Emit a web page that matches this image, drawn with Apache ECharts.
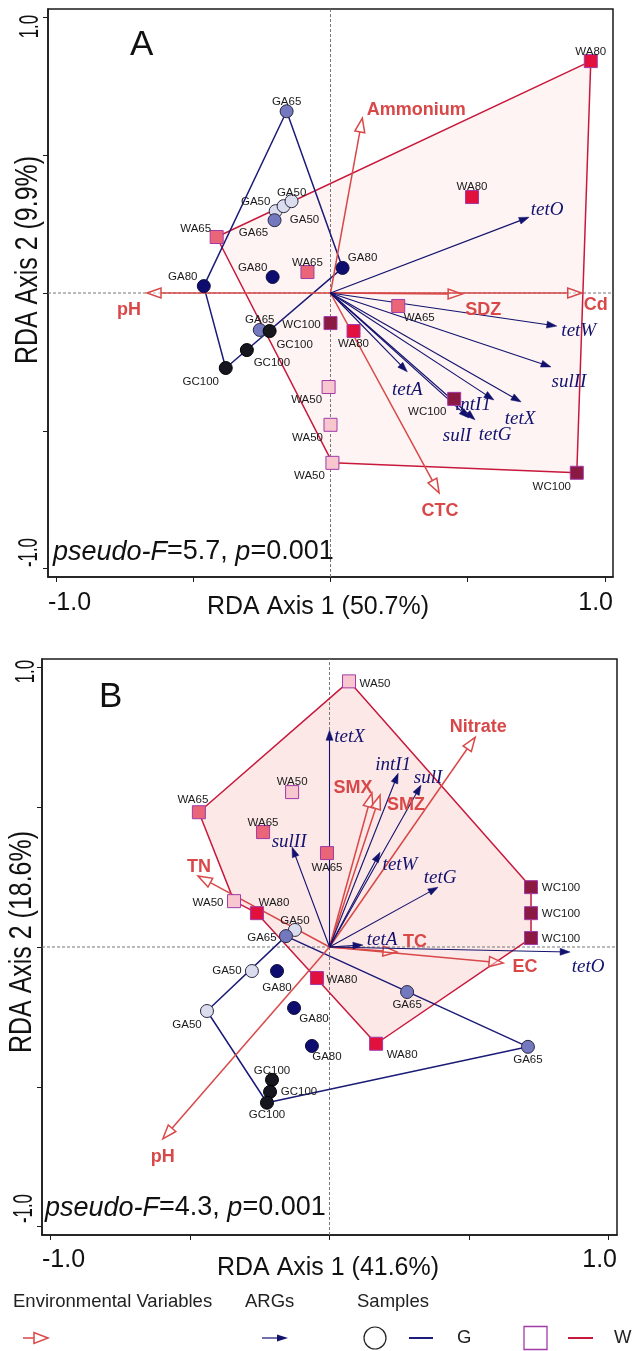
<!DOCTYPE html>
<html><head><meta charset="utf-8">
<script src="https://cdn.jsdelivr.net/npm/echarts@6/dist/echarts.min.js"></script>
<style>html,body{margin:0;padding:0;background:#fff}#c{width:635px;height:1351px}</style>
</head><body><div id="c"></div>
<script>
// ================= DATA =================
// ---- Panel A ----
const aSampleNames = ['GA50','GA50','GA50','GA65','GA65','GA65','GA80','GA80','GA80','GC100','GC100','GC100',
  'WA50','WA50','WA50','WA65','WA65','WA65','WA80','WA80','WA80','WC100','WC100','WC100'];
const aSampleX = [-0.200,-0.171,-0.142,-0.204,-0.160,-0.258,-0.462,-0.211,0.044,-0.222,-0.305,-0.382,
  -0.007,0.000,0.007,-0.415,-0.084,0.247,0.949,0.516,0.084,0.000,0.451,0.898];
const aSampleY = [0.297,0.315,0.333,0.264,0.659,-0.134,0.025,0.058,0.091,-0.138,-0.207,-0.272,
  -0.341,-0.478,-0.616,0.203,0.076,-0.047,0.841,0.348,-0.138,-0.109,-0.384,-0.652];
const aHullG = [4,8,11,6];
const aHullW = [15,18,23,14];
const aEnvNames = ['Ammonium','pH','SDZ','Cd','CTC'];
const aEnvX = [0.116,-0.669,0.480,0.916,0.396];
const aEnvY = [0.634,0.000,-0.004,0.000,-0.725];
const aArgNames = ['tetO','tetW','sulII','tetA','intI1','tetX','sulI','tetG'];
const aArgX = [0.724,0.825,0.804,0.280,0.596,0.695,0.505,0.527];
const aArgY = [0.275,-0.120,-0.268,-0.286,-0.388,-0.395,-0.453,-0.460];

// ---- Panel B ----
const bSampleNames = ['GA50','GA50','GA50','GA65','GA65','GA65','GA80','GA80','GA80','GC100','GC100','GC100',
  'WA50','WA50','WA50','WA65','WA65','WA65','WA80','WA80','WA80','WC100','WC100','WC100'];
const bSampleX = [-0.124,-0.278,-0.439,-0.156,0.278,0.711,-0.188,-0.127,-0.063,-0.206,-0.213,-0.224,
  0.070,-0.134,-0.342,-0.468,-0.238,-0.009,-0.260,-0.045,0.167,0.722,0.722,0.722];
const bSampleY = [0.061,-0.086,-0.229,0.039,-0.161,-0.357,-0.086,-0.218,-0.354,-0.475,-0.518,-0.557,
  0.950,0.554,0.164,0.482,0.411,0.336,0.121,-0.111,-0.346,0.214,0.121,0.032];
const bHullG = [3,5,11,2];
const bHullW = [12,21,23,20,18,14,15];
const bEnvNames = ['Nitrate','SMX','SMZ','TN','TC','EC','pH'];
const bEnvX = [0.522,0.152,0.181,-0.471,0.242,0.622,-0.597];
const bEnvY = [0.750,0.550,0.543,0.254,-0.018,-0.057,-0.686];
const bArgNames = ['tetX','intI1','sulI','sulII','tetW','tetG','tetA','tetO'];
const bArgX = [0.000,0.246,0.328,-0.134,0.181,0.389,0.120,0.862];
const bArgY = [0.775,0.621,0.579,0.357,0.339,0.214,0.007,-0.018];

// ---- texts / ticks ----
const panelLetters = ['A','B'];
const xTitles = ['RDA Axis 1 (50.7%)','RDA Axis 1 (41.6%)'];
const yTitles = ['RDA Axis 2 (9.9%)','RDA Axis 2 (18.6%)'];
const statF = ['5.7','4.3'];
const statP = ['0.001','0.001'];
const tickValues = [-1,-0.5,0,0.5,1];
const tickLabels = ['-1.0','1.0'];
const legendTitles = ['Environmental Variables','ARGs','Samples'];
const legendGroups = ['G','W'];

// ================= STYLE =================
const AX_MIN = -1.03, AX_MAX = 1.03;
const grids = [
  {left:48, top:9, width:565, height:568},
  {left:42, top:659, width:575, height:576}
];
const ENV_C = '#d94848', ARG_C = '#12126e', GHULL_C = '#1b1b78', WHULL_C = '#c8193c';
const W_FILL = ['#fdf4f3','#fde8e8'];
const SANS = '"Liberation Sans", Arial, sans-serif';
const SERIF = '"Liberation Serif", "Times New Roman", serif';
const typeStyle = {
  GA50:{symbol:'circle', color:'#dcdcef', border:'#2b2b40'},
  GA65:{symbol:'circle', color:'#7479bf', border:'#2b2b40'},
  GA80:{symbol:'circle', color:'#0d0d70', border:'#0d0d40'},
  GC100:{symbol:'circle', color:'#16161f', border:'#000000'},
  WA50:{symbol:'rect', color:'#f7c6cf', border:'#a23aa8'},
  WA65:{symbol:'rect', color:'#eb6579', border:'#a23aa8'},
  WA80:{symbol:'rect', color:'#e2103c', border:'#a23aa8'},
  WC100:{symbol:'rect', color:'#8a1a42', border:'#a23aa8'}
};
const aSampleLabelOff = [[-20,-9],[8,-13],[13,19],[-21,13],[0,-9],[0,-10],[-21,-9],[-20,-9],[20,-10],[25,14],[25,13],[-25,14],
  [-22,13],[-23,13],[-23,13],[-21,-8],[0,-9],[21,12],[0,-9],[0,-10],[0,13],[-29,2],[-27,13],[-25,14]];
const bSampleLabelOff = [[0,-9],[-25,0],[-20,14],[-24,2],[0,13],[0,13],[0,17],[20,11],[15,11],[0,-9],[29,0],[0,12],
  [26,2],[0,-10],[-26,2],[-6,-12],[0,-9],[0,15],[17,-10],[25,2],[26,11],[30,1],[30,1],[30,1]];
const aEnvLabelOff = [[54,-8],[-18,17],[21,16],[14,12],[1,18]];
const aArgLabelOff = [[18,-7],[22,5],[18,15],[0,18],[-21,5],[-1,17],[-12,18],[20,15]];
const bEnvLabelOff = [[3,-10],[-19,-5],[26,10],[1,-9],[18,-10],[22,4],[0,18]];
const bArgLabelOff = [[20,7],[-5,-8],[7,-7],[-3,-5],[20,13],[2,-9],[19,-5],[18,15]];

const panels = [
  {names:aSampleNames, sx:aSampleX, sy:aSampleY, hullG:aHullG, hullW:aHullW, envN:aEnvNames, envX:aEnvX, envY:aEnvY,
   argN:aArgNames, argX:aArgX, argY:aArgY, sOff:aSampleLabelOff, eOff:aEnvLabelOff, gOff:aArgLabelOff},
  {names:bSampleNames, sx:bSampleX, sy:bSampleY, hullG:bHullG, hullW:bHullW, envN:bEnvNames, envX:bEnvX, envY:bEnvY,
   argN:bArgNames, argX:bArgX, argY:bArgY, sOff:bSampleLabelOff, eOff:bEnvLabelOff, gOff:bArgLabelOff}
];

function arrowItem(api, x, y, color, hl, hw, hollow, lw, text, off, font) {
  const p0 = api.coord([0,0]), p1 = api.coord([x,y]);
  const dx = p1[0]-p0[0], dy = p1[1]-p0[1], L = Math.hypot(dx,dy) || 1;
  const ux = dx/L, uy = dy/L;
  const b = [p1[0]-ux*hl, p1[1]-uy*hl];
  const l = [b[0]-uy*hw, b[1]+ux*hw], r = [b[0]+uy*hw, b[1]-ux*hw];
  return {type:'group', children:[
    {type:'line', shape:{x1:p0[0], y1:p0[1], x2:hollow?b[0]:p1[0]-ux*2, y2:hollow?b[1]:p1[1]-uy*2}, style:{stroke:color, lineWidth:lw}},
    {type:'polygon', shape:{points:[p1,l,r]}, style:hollow?{stroke:color, fill:'rgba(255,255,255,0.5)', lineWidth:1.5}:{fill:color, stroke:color, lineWidth:0.5}},
    {type:'text', x:p1[0]+off[0], y:p1[1]+off[1], z2:20, style:{text:text, fill:color, font:font, align:'center', verticalAlign:'middle'}}
  ]};
}

const series = [];
panels.forEach((P, i) => {
  // W hull fill
  series.push({type:'custom', xAxisIndex:i, yAxisIndex:i, z:1, silent:true,
    data: P.hullW.map(k => [P.sx[k], P.sy[k]]),
    renderItem:(params, api) => {
      if (params.dataIndex !== 0) return null;
      return {type:'polygon', shape:{points:P.hullW.map(k => api.coord([P.sx[k], P.sy[k]]))}, style:{fill:W_FILL[i], stroke:'none'}};
    }});
  // zero lines
  series.push({type:'custom', xAxisIndex:i, yAxisIndex:i, z:2, silent:true, data:[[0,0]],
    renderItem:(params, api) => {
      const h0 = api.coord([AX_MIN,0]), h1 = api.coord([AX_MAX,0]);
      const v0 = api.coord([0,AX_MIN]), v1 = api.coord([0,AX_MAX]);
      const st = {stroke:'#777', lineWidth:1, lineDash:[3,2]};
      return {type:'group', children:[
        {type:'line', shape:{x1:h0[0], y1:h0[1], x2:h1[0], y2:h1[1]}, style:st},
        {type:'line', shape:{x1:v0[0], y1:v0[1], x2:v1[0], y2:v1[1]}, style:st}
      ]};
    }});
  // hull outlines
  series.push({type:'line', xAxisIndex:i, yAxisIndex:i, z:3, silent:true, symbol:'none',
    data:[...P.hullW, P.hullW[0]].map(k => [P.sx[k], P.sy[k]]), lineStyle:{color:WHULL_C, width:1.5}});
  series.push({type:'line', xAxisIndex:i, yAxisIndex:i, z:3, silent:true, symbol:'none',
    data:[...P.hullG, P.hullG[0]].map(k => [P.sx[k], P.sy[k]]), lineStyle:{color:GHULL_C, width:1.5}});
  // environmental arrows
  series.push({type:'custom', xAxisIndex:i, yAxisIndex:i, z:4, silent:true,
    data:P.envX.map((x,k) => [x, P.envY[k], k]),
    renderItem:(params, api) => {
      const k = api.value(2);
      return arrowItem(api, api.value(0), api.value(1), ENV_C, 14, 5, true, 1.5, P.envN[k], P.eOff[k], 'bold 18px ' + SANS);
    }});
  // ARG arrows
  series.push({type:'custom', xAxisIndex:i, yAxisIndex:i, z:4, silent:true,
    data:P.argX.map((x,k) => [x, P.argY[k], k]),
    renderItem:(params, api) => {
      const k = api.value(2);
      return arrowItem(api, api.value(0), api.value(1), ARG_C, 10, 3.5, false, 1.1, P.argN[k], P.gOff[k], 'italic 19px ' + SERIF);
    }});
  // samples
  series.push({type:'scatter', xAxisIndex:i, yAxisIndex:i, z:5, silent:true,
    data:P.names.map((n,k) => {
      const s = typeStyle[n];
      return {name:n, value:[P.sx[k], P.sy[k]], symbol:s.symbol, symbolSize:13,
        itemStyle:{color:s.color, borderColor:s.border, borderWidth:1, opacity:1}};
    })});
  // sample labels
  series.push({type:'custom', xAxisIndex:i, yAxisIndex:i, z:6, silent:true,
    data:P.sx.map((x,k) => [x, P.sy[k], k]),
    renderItem:(params, api) => {
      const k = api.value(2), p = api.coord([api.value(0), api.value(1)]);
      return {type:'text', x:p[0]+P.sOff[k][0], y:p[1]+P.sOff[k][1],
        style:{text:P.names[k], fill:'#1a1a1a', font:'11.5px ' + SANS, align:'center', verticalAlign:'middle'}};
    }});
});

// ---- graphic texts ----
const graphic = [];
grids.forEach((g, i) => {
  const L = g.left, R = g.left + g.width, T = g.top, B = g.top + g.height;
  graphic.push({type:'text', x:(i?99:130), y:(i?697:45), style:{text:panelLetters[i], font:'35px ' + SANS, fill:'#111', verticalAlign:'middle'}});
  graphic.push({type:'text', x:L, y:B+(i?25:26), style:{text:tickLabels[0], font:'25px ' + SANS, fill:'#111', align:'left', verticalAlign:'middle'}});
  graphic.push({type:'text', x:R, y:B+(i?25:26), style:{text:tickLabels[1], font:'25px ' + SANS, fill:'#111', align:'right', verticalAlign:'middle'}});
  graphic.push({type:'text', x:(i?26:30), y:T+(i?1:6), rotation:Math.PI/2, scaleX:0.6,
    style:{text:tickLabels[1], font:'28px ' + SANS, fill:'#111', align:'right', verticalAlign:'middle'}});
  graphic.push({type:'text', x:(i?24:29), y:B-(i?12:10), rotation:Math.PI/2, scaleX:0.6,
    style:{text:tickLabels[0], font:'28px ' + SANS, fill:'#111', align:'left', verticalAlign:'middle'}});
  graphic.push({type:'text', x:(i?328:318), y:B+(i?33:30), scaleX:0.96,
    style:{text:xTitles[i], font:'26px ' + SANS, fill:'#111', align:'center', verticalAlign:'middle'}});
  graphic.push({type:'text', x:(i?22:28), y:(i?942:260), rotation:Math.PI/2, scaleX:0.78,
    style:{text:yTitles[i], font:'32px ' + SANS, fill:'#111', align:'center', verticalAlign:'middle'}});
  graphic.push({type:'text', x:(i?45:53), y:(i?1208:552),
    style:{text:'{i|pseudo-F}{n|=' + statF[i] + ', }{i|p}{n|=' + statP[i] + '}', verticalAlign:'middle',
      rich:{i:{font:'italic 27px ' + SANS, fill:'#111'}, n:{font:'27px ' + SANS, fill:'#111'}}}});
});
// legend
const LY = 1338, LT = 1302;
graphic.push({type:'text', x:13, y:LT, style:{text:legendTitles[0], font:'18.5px ' + SANS, fill:'#222', verticalAlign:'middle'}});
graphic.push({type:'text', x:245, y:LT, style:{text:legendTitles[1], font:'18.5px ' + SANS, fill:'#222', verticalAlign:'middle'}});
graphic.push({type:'text', x:357, y:LT, style:{text:legendTitles[2], font:'18.5px ' + SANS, fill:'#222', verticalAlign:'middle'}});
graphic.push({type:'line', shape:{x1:23, y1:LY, x2:34, y2:LY}, style:{stroke:ENV_C, lineWidth:1.5}});
graphic.push({type:'polygon', shape:{points:[[48,LY],[34,LY-5.5],[34,LY+5.5]]}, style:{stroke:ENV_C, fill:'#fff', lineWidth:1.5}});
graphic.push({type:'line', shape:{x1:262, y1:LY, x2:278, y2:LY}, style:{stroke:ARG_C, lineWidth:1.2}});
graphic.push({type:'polygon', shape:{points:[[288,LY],[277,LY-3.5],[277,LY+3.5]]}, style:{fill:ARG_C}});
graphic.push({type:'circle', shape:{cx:375, cy:LY, r:11}, style:{stroke:'#222', fill:'#fff', lineWidth:1.2}});
graphic.push({type:'line', shape:{x1:409, y1:LY, x2:433, y2:LY}, style:{stroke:GHULL_C, lineWidth:2}});
graphic.push({type:'text', x:457, y:LY, style:{text:legendGroups[0], font:'18.5px ' + SANS, fill:'#222', verticalAlign:'middle'}});
graphic.push({type:'rect', shape:{x:524, y:LY-11.5, width:23, height:23}, style:{stroke:'#a23aa8', fill:'#fff', lineWidth:1.3}});
graphic.push({type:'line', shape:{x1:568, y1:LY, x2:593, y2:LY}, style:{stroke:WHULL_C, lineWidth:2}});
graphic.push({type:'text', x:614, y:LY, style:{text:legendGroups[1], font:'18.5px ' + SANS, fill:'#222', verticalAlign:'middle'}});

const axisCommon = (i) => ({gridIndex:i, type:'value', min:AX_MIN, max:AX_MAX,
  axisLine:{show:true, onZero:false, lineStyle:{color:'#1a1a1a', width:1.5}},
  axisTick:{show:true, customValues:tickValues, length:5, lineStyle:{color:'#1a1a1a', width:1}},
  axisLabel:{show:false}, splitLine:{show:false}});

const chart = echarts.init(document.getElementById('c'), null, {renderer:'canvas'});
chart.setOption({
  animation:false,
  backgroundColor:'#fff',
  grid: grids.map(g => Object.assign({show:true, borderColor:'#1a1a1a', borderWidth:1.5, backgroundColor:'transparent', containLabel:false}, g)),
  xAxis: [0,1].map(axisCommon),
  yAxis: [0,1].map(axisCommon),
  series: series,
  graphic: graphic
});
</script></body></html>
